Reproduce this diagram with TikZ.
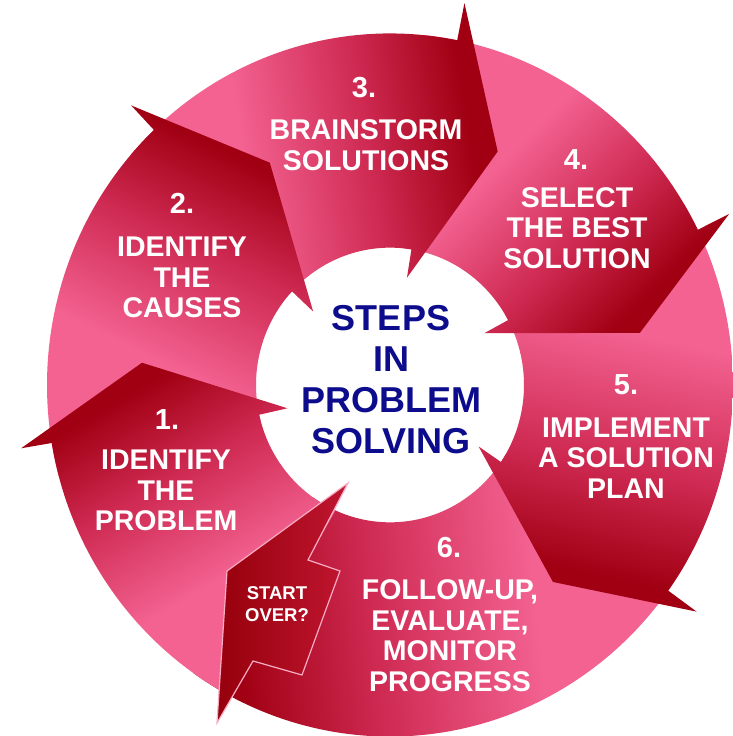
\documentclass[tikz,border=0pt]{standalone}
\usepackage{fontspec}
\setmainfont{Liberation Sans}
\usepackage{tikz}

\definecolor{ringpink}{RGB}{243,98,145}
\definecolor{ringmid}{RGB}{205,40,80}
\definecolor{ringdark}{RGB}{160,0,18}
\definecolor{titleblue}{RGB}{12,12,140}
\definecolor{edgepink}{RGB}{250,172,196}

\pgfdeclarehorizontalshading{ringfade}{100bp}{color(0bp)=(ringpink); color(40bp)=(ringpink); color(58bp)=(ringmid); color(72bp)=(ringdark); color(100bp)=(ringdark)}

\tikzset{
  steplabel/.style={text=white,font=\bfseries\fontsize{28.5}{30.5}\selectfont,align=center,inner sep=0pt},
  stepnum/.style={text=white,font=\bfseries\fontsize{29}{30}\selectfont,inner sep=0pt},
  smalllabel/.style={text=white,font=\bfseries\fontsize{18.5}{22}\selectfont,align=center,inner sep=0pt},
  titlelabel/.style={text=titleblue,font=\bfseries\fontsize{36}{41}\selectfont,align=center,inner sep=0pt},
  ringarrow/.style={shading=ringfade},
}

\begin{document}
\begin{tikzpicture}[x=1pt,y=1pt]
\useasboundingbox (0,0) rectangle (733,736);
\fill[white] (0,0) rectangle (733,736);

\begin{scope}[shift={(390,351)},yscale=1.025]
% 6 (tail under 5, end under 1)
\shade[ringarrow,shading angle=-174] (-30:343) arc[start angle=-30,end angle=-125,radius=343] -- (-125:134) arc[start angle=-125,end angle=-30,radius=134] -- cycle;
% 5
\shade[ringarrow,shading angle=-102] (31:343) arc[start angle=31,end angle=-35.8,radius=343] -- (-35.8:378) -- (-49.7:252) -- (-34.1:107) -- (-34.1:134) arc[start angle=-34.1,end angle=31,radius=134] -- cycle;
% 4
\shade[ringarrow,shading angle=-45] (84:343) arc[start angle=84,end angle=26.2,radius=343] -- (26.2:378) -- (11.5:255) -- (28.2:107) -- (28.2:134) arc[start angle=28.2,end angle=84,radius=134] -- cycle;
% 3
\shade[ringarrow,shading angle=9] (139:343) arc[start angle=139,end angle=78.7,radius=343] -- (78.7:380) -- (64.7:252) -- (80.8:106) -- (80.8:134) arc[start angle=80.8,end angle=139,radius=134] -- cycle;
% 2
\shade[ringarrow,shading angle=64] (195:343) arc[start angle=195,end angle=133.5,radius=343] -- (133.5:376) -- (119:248) -- (137:105) -- (137:134) arc[start angle=137,end angle=195,radius=134] -- cycle;
% 1
\shade[ringarrow,shading angle=120] (242:343) arc[start angle=242,end angle=189.5,radius=343] -- (189.5:374) -- (175:249) -- (192.5:105) -- (192.5:134) arc[start angle=192.5,end angle=246,radius=134] -- cycle;
\end{scope}

% start over
\shade[left color={rgb,255:red,150;green,0;blue,12},right color={rgb,255:red,192;green,22;blue,48},draw=edgepink,line width=1.2pt]
  (348,253) -- (308,176) -- (340,165) -- (302,61) -- (253,75) -- (217,13) -- (227,165) -- cycle;

\node[stepnum] (num1) at (167,316) {1.};
\node[steplabel] (step1) at (166,245.5) {IDENTIFY\\THE\\PROBLEM};
\node[stepnum] (num2) at (182,533) {2.};
\node[steplabel] (step2) at (182,458.5) {IDENTIFY\\THE\\CAUSES};
\node[stepnum] (num3) at (364,648) {3.};
\node[steplabel] (step3) at (366,591) {BRAINSTORM\\SOLUTIONS};
\node[stepnum] (num4) at (576,576) {4.};
\node[steplabel] (step4) at (577,508) {SELECT\\THE BEST\\SOLUTION};
\node[stepnum] (num5) at (626,351) {5.};
\node[steplabel] (step5) at (626,278) {IMPLEMENT\\A SOLUTION\\PLAN};
\node[stepnum] (num6) at (449,188) {6.};
\node[steplabel] (step6) at (450,100.5) {FOLLOW-UP,\\EVALUATE,\\MONITOR\\PROGRESS};
\node[smalllabel] (restart) at (277,132) {START\\OVER?};
\node[titlelabel] (title) at (391,356) {STEPS\\IN\\PROBLEM\\SOLVING};
\end{tikzpicture}
\end{document}
